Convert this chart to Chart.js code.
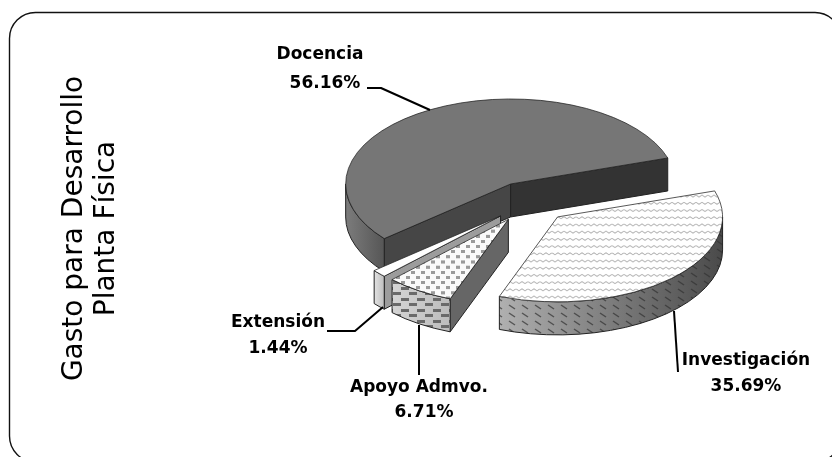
<!DOCTYPE html>
<html><head><meta charset="utf-8">
<script src="https://cdn.jsdelivr.net/npm/chart.js@4"></script>
<style>html,body{margin:0;padding:0;background:#fff}#w{width:832px;height:457px}</style>
</head><body><div id="w"><canvas id="c"></canvas></div>
<script>
const categories = ['Docencia','Investigación','Apoyo Admvo.','Extensión'];
const values = [56.16,35.69,6.71,1.44];
const titleLines = ['Gasto para Desarrollo','Planta Física'];

const FONT = '"DejaVu Sans"';
const SQUASH = 0.515, LIFT = 26.5, DEPTH = 33, EXPLODE = 40, RADIUS = 165;

function tile(w,h,draw){const c=document.createElement('canvas');c.width=w;c.height=h;draw(c.getContext('2d'));
  return document.createElement('canvas').getContext('2d').createPattern(c,'repeat');}
const zigTop = tile(12,14,g=>{g.fillStyle='#fff';g.fillRect(0,0,12,14);g.strokeStyle='#bcbcbc';g.lineWidth=1.5;
  g.beginPath();g.moveTo(0,5);g.lineTo(3,9);g.lineTo(6,5);g.lineTo(9,9);g.lineTo(12,5);g.stroke();});
const dotsTop = tile(10,20,g=>{g.fillStyle='#fafafa';g.fillRect(0,0,10,20);g.fillStyle='#9a9a9a';
  g.fillRect(1,2,4,6);g.fillRect(6,12,4,6);});
const bricks = tile(16,11,g=>{g.fillStyle='#6a6a6a';g.fillRect(1,1,8,3);g.fillRect(9,6,7,3);g.fillRect(0,6,1,3);});
const dashes = tile(13,8,g=>{g.strokeStyle='rgba(50,50,50,.7)';g.lineWidth=1.5;g.beginPath();g.moveTo(2,1);g.lineTo(8,5);g.stroke();});

// appearance of each slice: top face, outer wall shades, wall texture, radial face colours
const topFills = ['#767676', zigTop, dotsTop, '#ffffff'];
const wallShades = [['#7c7c7c','#565656'],['#b0b0b0','#4a4a4a'],['#d4d4d4','#bcbcbc'],['#e2e2e2','#bdbdbd']];
const wallTex = [null,dashes,bricks,null];
const startFace = ['#464646',null,'#666666','#9c9c9c'];
const endFace = ['#333333',null,null,null];
const paintOrder = [0,1,3,2];

const labelPos = [[320,55],[746,361],[419,388],[278,323]];
const valuePos = [[325,84],[746,387],[424,413],[278,349]];
const leaders = [[[367,88],[381,88],[430,110]],[[674,311],[678,372]],[[419,325],[419,375]],[[327,331],[355,331],[383,307]]];

const pie3d = {
  id:'pie3d',
  beforeDraw(ch){const g=ch.ctx;g.save();g.fillStyle='#fff';g.fillRect(0,0,ch.width,ch.height);
    g.strokeStyle='#111';g.lineWidth=1.4;g.beginPath();g.roundRect(9.5,12.5,831.5,449.5,26);g.stroke();g.restore();},
  afterDatasetsUpdate(ch){
    ch.getDatasetMeta(0).data.forEach(a=>{const m=(a.startAngle+a.endAngle)/2;
      a.x+=Math.cos(m)*EXPLODE;a.y+=Math.sin(m)*EXPLODE;});
  },
  beforeDatasetsDraw(ch){
    const g=ch.ctx, a0=ch.chartArea, cy0=(a0.top+a0.bottom)/2;
    const sy=y=>cy0+(y-cy0)*SQUASH-LIFT;
    const arcs=ch.getDatasetMeta(0).data;
    paintOrder.forEach(i=>{
      const a=arcs[i];
      const cx=a.x, cy=sy(a.y), R=a.outerRadius, ry=R*SQUASH;
      const face=(ang,col)=>{ if(!col)return;
        const x=cx+Math.cos(ang)*R,y=cy+Math.sin(ang)*ry;
        g.beginPath();g.moveTo(cx,cy);g.lineTo(x,y);g.lineTo(x,y+DEPTH);g.lineTo(cx,cy+DEPTH);g.closePath();
        g.fillStyle=col;g.fill();g.strokeStyle='#222';g.lineWidth=1;g.stroke();};
      face(a.startAngle,startFace[i]);face(a.endAngle,endFace[i]);
      // outer wall: the part of the rim that faces the viewer
      for(let k=-1;k<=1;k++){
        const s=Math.max(a.startAngle,k*2*Math.PI),e=Math.min(a.endAngle,k*2*Math.PI+Math.PI);
        if(e<=s)continue;
        const xs=cx+Math.cos(s)*R, xe=cx+Math.cos(e)*R;
        g.beginPath();g.ellipse(cx,cy,R,ry,0,s,e);g.ellipse(cx,cy+DEPTH,R,ry,0,e,s,true);g.closePath();
        const gr=g.createLinearGradient(Math.min(xs,xe),0,Math.max(xs,xe),0);
        gr.addColorStop(0,wallShades[i][0]);gr.addColorStop(1,wallShades[i][1]);
        g.fillStyle=gr;g.fill();
        if(wallTex[i]){g.fillStyle=wallTex[i];g.fill();}
        g.strokeStyle='#222';g.lineWidth=1;g.stroke();
      }
    });
  },
  beforeDatasetDraw(ch){
    const g=ch.ctx,a=ch.chartArea,cy0=(a.top+a.bottom)/2;
    g.save();g.translate(0,cy0-LIFT);g.scale(1,SQUASH);g.translate(0,-cy0);
  },
  afterDatasetDraw(ch){ch.ctx.restore();},
  afterDatasetsDraw(ch){
    const g=ch.ctx;g.save();
    g.strokeStyle='#000';g.lineWidth=2;g.lineJoin='round';
    leaders.forEach(p=>{g.beginPath();p.forEach((q,j)=>j?g.lineTo(q[0],q[1]):g.moveTo(q[0],q[1]));g.stroke();});
    g.fillStyle='#000';g.textAlign='center';g.textBaseline='middle';g.font='bold 17px '+FONT;
    categories.forEach((c,i)=>{
      g.fillText(c,labelPos[i][0],labelPos[i][1]);
      g.fillText(values[i].toFixed(2)+'%',valuePos[i][0],valuePos[i][1]);
    });
    g.restore();
  }
};

new Chart(document.getElementById('c'),{
  type:'pie',
  data:{labels:categories,datasets:[{data:values,backgroundColor:topFills,borderColor:'#222',borderWidth:1,clip:false,hoverOffset:0}]},
  plugins:[pie3d],
  options:{
    responsive:true,maintainAspectRatio:false,animation:false,events:[],
    rotation:230,radius:RADIUS,
    layout:{padding:0},
    plugins:{
      legend:{display:false},tooltip:{enabled:false},
      title:{display:true,position:'left',text:titleLines,color:'#000',
        font:{family:FONT,size:28,weight:'normal',lineHeight:1.143},
        padding:{top:59,bottom:105}}
    }
  }
});
</script></body></html>
